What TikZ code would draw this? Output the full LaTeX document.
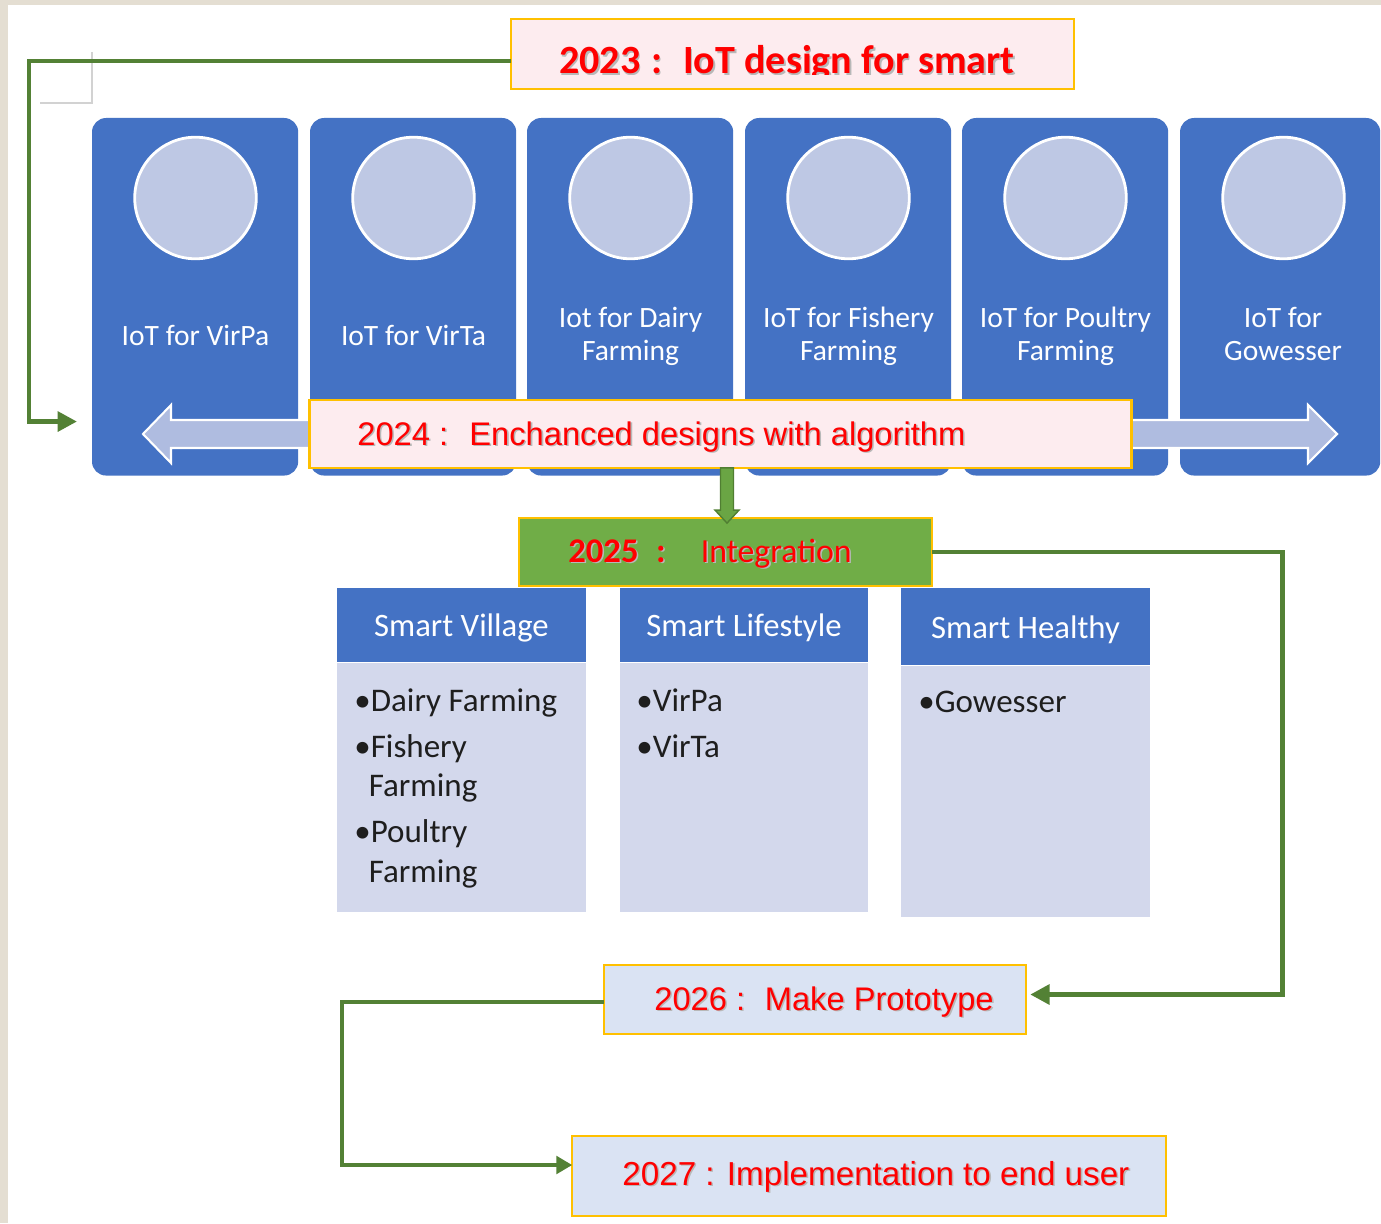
\documentclass[tikz,border=0pt]{standalone}
\usepackage{fontspec}
\setmainfont{Carlito}
\newfontfamily\arialf{Liberation Sans}
\usetikzlibrary{arrows.meta,calc}
\definecolor{beige}{HTML}{E4DED2}
\definecolor{cardblue}{HTML}{4472C4}
\definecolor{circfill}{HTML}{BEC8E4}
\definecolor{arrfill}{HTML}{AFBCE0}
\definecolor{pinkfill}{HTML}{FDECEF}
\definecolor{goldline}{HTML}{FFC000}
\definecolor{leafgreen}{HTML}{70AD47}
\definecolor{darkgreen}{HTML}{538135}
\definecolor{arrgreen}{HTML}{6AA544}
\definecolor{arredge}{HTML}{507E32}
\definecolor{tbody}{HTML}{D3D8EC}
\definecolor{paleblue}{HTML}{DAE3F3}
\definecolor{txtred}{HTML}{FF0000}
\definecolor{marklines}{HTML}{D2D2D2}
\definecolor{bodytxt}{HTML}{1E1E1E}
\newcommand\shd[1]{\leavevmode\rlap{\kern0.9pt\raisebox{-0.9pt}{\textcolor{black!28}{#1}}}#1}
\begin{document}
\begin{tikzpicture}[x=0.02cm,y=-0.02cm,line join=miter,
  conn/.style={draw=darkgreen,line width=2.8pt,-{Triangle[length=11pt,width=11pt]}},
  conntwo/.style={draw=darkgreen,line width=2pt,-{Triangle[length=9pt,width=10pt]}},
  card/.style={fill=cardblue,rounded corners=8pt,minimum height=203.5pt,inner sep=0pt,outer sep=0pt},
  disc/.style={circle,fill=circfill,draw=white,line width=1.6pt,minimum size=69.2pt,inner sep=0pt},
  cardlabel/.style={text=white,anchor=base,inner sep=0pt,font=\fontsize{16.8}{20}\selectfont},
  yearbox/.style={draw=goldline,line width=1.4pt,inner sep=0pt,outer sep=0pt},
  redtxt/.style={text=txtred,inner sep=0pt,anchor=base west},
  arialtxt/.style={redtxt,font=\arialf\fontsize{18.6}{22}\selectfont},
  headbox/.style={fill=cardblue,minimum width=141.2pt,inner sep=0pt,outer sep=0pt,text=white,
     font=\fontsize{18.6}{22}\selectfont,text height=16pt,text depth=2.4pt},
  bodybox/.style={fill=tbody,minimum width=141.2pt,inner sep=0pt,outer sep=0pt},
  bline/.style={inner sep=0pt,anchor=base west,text=bodytxt,font=\fontsize{18.8}{22}\selectfont}
]
\clip (0,0) rectangle (1381,1223);
\fill[beige] (0,0) rectangle (1381,1223);
\fill[white] (8,5) rectangle (1381,1223);
\draw[marklines,line width=0.6pt] (92,52) -- (92,103) -- (40,103);

% cards with circles
\foreach \i/\lx/\w in {1/92/117.35,2/310/117.35,3/527/117.35,4/745/117.35,5/962/117.35,6/1180/113.95}{
  \node[card,minimum width=\w pt,anchor=north west] (c\i) at (\lx,118) {};
  \node[disc] (d\i) at (\lx+103.5,198) {};
}
\node[cardlabel] (l1) at (195.5,345) {IoT for VirPa};
\node[cardlabel] (l2) at (413.5,345) {IoT for VirTa};
\node[cardlabel] (l3a) at (630.5,327) {Iot for Dairy};
\node[cardlabel] (l3b) at (630.5,360) {Farming};
\node[cardlabel] (l4a) at (848.5,327) {IoT for Fishery};
\node[cardlabel] (l4b) at (848.5,360) {Farming};
\node[cardlabel] (l5a) at (1065.5,327) {IoT for Poultry};
\node[cardlabel] (l5b) at (1065.5,360) {Farming};
\node[cardlabel] (l6a) at (1283,327) {IoT for};
\node[cardlabel] (l6b) at (1283,360) {Gowesser};

% double block arrow
\draw[fill=arrfill,draw=white,line width=1.2pt] (143,434) -- (171,405) -- (171,420) -- (1308,420)
  -- (1308,405) -- (1337,434) -- (1308,463) -- (1308,448) -- (171,448) -- (171,463) -- cycle;

% 2024
\node[yearbox,fill=pinkfill,minimum width=467.7pt,minimum height=38.6pt] (t24) at (720.5,434) {};
\node[arialtxt] (t24txt) at (357,445) {\shd{2024 :\hspace{0.65em}Enchanced designs with algorithm}};

% 2023
\node[yearbox,fill=pinkfill,minimum width=320.3pt,minimum height=39.7pt] (t23) at (792.5,54) {};
\begin{scope}
  \clip (510,19) rectangle (1075,74.5);
  \node[redtxt,font=\fontsize{22.8}{26}\selectfont\bfseries] (t23txt) at (559,74)
    {\shd{2023\hspace{6pt}:\hspace{12pt}IoT design for smart}};
\end{scope}
\draw[conn] ($(t23.west)+(0,7)$) -| ($(c1.south west)+(-63,-54)$) -- ($(c1.south west)+(-15,-54)$);

% 2025
\node[yearbox,fill=leafgreen,minimum width=235.3pt,minimum height=38.6pt] (t25) at (725.5,552) {};
\node[redtxt,font=\fontsize{19.2}{22}\selectfont] (t25txt) at (568,562)
  {\shd{{\fontsize{19.7}{23}\selectfont\bfseries 2025\hspace{10pt}:}}\hspace{20pt}\shd{Integration}};
\coordinate (da) at ($(t24.south)+(6.5,0)$);
\coordinate (db) at (da |- t25.north);
\draw[fill=arrgreen,draw=arredge,line width=0.8pt] ($(da)+(-6.5,0)$) -- ($(db)+(-6.5,-8)$) -- ($(db)+(-12,-8)$)
  -- ($(db)+(0,5)$) -- ($(db)+(12,-8)$) -- ($(db)+(6.5,-8)$) -- ($(da)+(6.5,0)$) -- cycle;

% tables
\node[headbox,minimum height=41.95pt] (h1) at (461.5,625) {Smart Village};
\node[bodybox,minimum height=141.73pt] (b1) at (461.5,787) {};
\node[headbox,minimum height=41.95pt] (h2) at (744,625) {Smart Lifestyle};
\node[bodybox,minimum height=141.73pt] (b2) at (744,787) {};
\node[headbox,minimum height=43.65pt] (h3) at (1025.5,626.5) {Smart Healthy};
\node[bodybox,minimum height=142.87pt] (b3) at (1025.5,791) {};

\node[bline] (i1a) at (354,711) {•Dairy Farming};
\node[bline] (i1b) at (354,757) {•Fishery};
\node[bline] (i1c) at (352,796) {\phantom{•}Farming};
\node[bline] (i1d) at (354,842) {•Poultry};
\node[bline] (i1e) at (352,882) {\phantom{•}Farming};
\node[bline] (i2a) at (636,711) {•VirPa};
\node[bline] (i2b) at (636,757) {•VirTa};
\node[bline] (i3a) at (918,712) {•Gowesser};

% 2026, 2027
\node[yearbox,fill=paleblue,minimum width=240.4pt,minimum height=39.1pt] (t26) at (815,999.5) {};
\node[arialtxt] (t26txt) at (654,1010) {\shd{2026 :\hspace{0.6em}Make Prototype}};
\node[yearbox,fill=paleblue,minimum width=337.9pt,minimum height=45.4pt] (t27) at (869,1176) {};
\node[arialtxt,font=\arialf\fontsize{18.9}{22}\selectfont] (t27txt) at (622,1185) {\shd{2027 : Implementation to end user}};

\draw[conn] (t25.east) -| ($(t26.east)+(256,-5)$) -- ($(t26.east)+(4,-5)$);
\draw[conntwo] ($(t26.west)+(0,2.5)$) -| ($(t27.west)+(-230,-11)$) -- ($(t27.west)+(0,-11)$);
\end{tikzpicture}
\end{document}
